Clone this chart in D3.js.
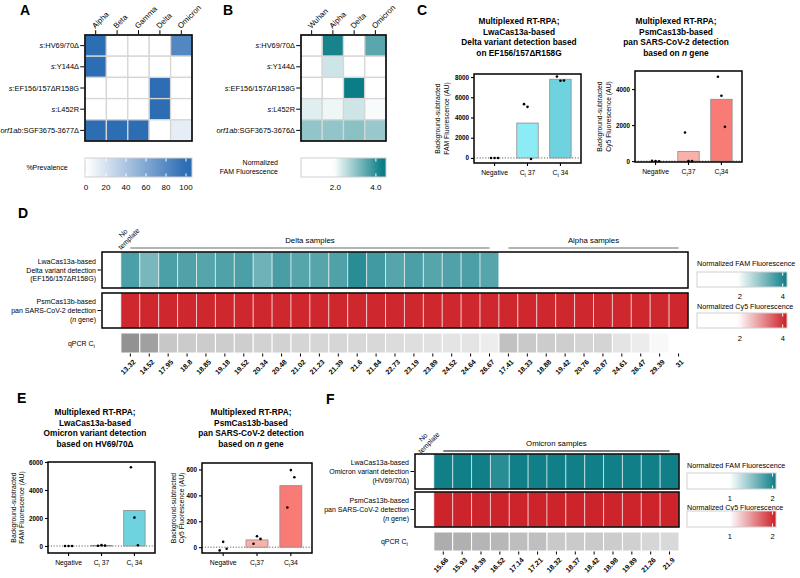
<!DOCTYPE html>
<html><head><meta charset="utf-8">
<script src="https://cdnjs.cloudflare.com/ajax/libs/d3/7.8.5/d3.min.js"></script>
<style>body{margin:0;background:#fff}svg{display:block}</style>
</head><body>
<svg id="c" width="800" height="578"></svg>
<script>
// ===================== DATA =====================
// Panel A
const variantsA = ["Alpha","Beta","Gamma","Delta","Omicron"];
const mutationsA = ["*s*:HV69/70Δ","*s*:Y144Δ","*s*:EF156/157ΔR158G","*s*:L452R","*orf1ab*:SGF3675-3677Δ"];
const prevalenceA = [
  [100,0,0,0,82],
  [100,0,0,0,0],
  [0,0,0,100,0],
  [0,0,0,100,0],
  [100,100,100,0,12]];
const prevalenceTicks = [0,20,40,60,80,100];
// Panel B
const variantsB = ["Wuhan","Alpha","Delta","Omicron"];
const mutationsB = ["*s*:HV69/70Δ","*s*:Y144Δ","*s*:EF156/157ΔR158G","*s*:L452R","*orf1ab*:SGF3675-3676Δ"];
const famB = [
  [1.0,4.18,1.0,3.53],
  [1.0,2.38,1.0,1.0],
  [1.0,1.0,4.3,1.0],
  [2.21,2.07,2.38,1.97],
  [2.98,2.98,3.05,2.91]];
const famBTicks = [2.0,4.0];
// Panel C
const cGroups = ["Negative","Ct 37","Ct 34"];
const cFamLabels = ["Negative","C_t_ 37","C_t_ 34"];
const cFamBars = [0,3450,7780];
const cFamPoints = [[0,0,0],[5320,5050,-100],[8050,7630,7660]];
const cFamTicks = [0,2000,4000,6000,8000];
const cCy5Labels = ["Negative","C_t_37","C_t_34"];
const cCy5Bars = [0,530,3430];
const cCy5Points = [[10,0,-10],[1590,0,0],[4680,3630,1900]];
const cCy5Ticks = [0,2000,4000];
const cFamTitle = ["Multiplexed RT-RPA;","LwaCas13a-based","Delta variant detection based","on EF156/157ΔR158G"];
const cCy5Title = ["Multiplexed RT-RPA;","PsmCas13b-based","pan SARS-CoV-2 detection","based on *n* gene"];
// Panel D
const deltaCt = [13.32,14.52,17.95,18.8,18.85,19.18,19.52,20.34,20.48,21.02,21.23,21.39,21.6,21.84,22.73,23.19,23.89,24.52,24.64,26.67];
const alphaCt = [17.41,18.33,18.88,19.42,20.76,20.87,24.61,26.47,29.39,31];
const famDelta = [3.6,3.17,3.6,3.55,3.5,3.55,3.6,3.26,3.62,3.5,3.5,3.55,3.92,3.69,3.5,3.59,3.5,3.55,3.59,3.5];
const famAlpha = [1.2,1.1,1.2,1.1,1.2,1.1,1.2,1.1,1.2,1.1];
const cy5Delta = [4.1,4.1,4.1,4.1,4.1,4.1,4.1,4.1,4.1,4.1,4.1,4.1,4.1,4.1,4.1,4.1,4.1,4.1,4.1,4.1];
const cy5Alpha = [4.1,4.1,4.1,4.1,4.1,4.1,4.1,4.1,4.1,4.1];
const noTemplateD = {fam:0, cy5:0};
const dTicks = [2,4];
// Panel E
const eFamLabels = ["Negative","C_t_ 37","C_t_ 34"];
const eFamBars = [0,35,2540];
const eFamPoints = [[0,0,0],[20,60,30],[5620,2030,50]];
const eFamTicks = [0,2000,4000,6000];
const eCy5Labels = ["Negative","C_t_37","C_t_34"];
const eCy5Bars = [0,56,475];
const eCy5Points = [[-25,41,-12],[26,84,64],[306,595,540]];
const eCy5Ticks = [0,200,400,600];
const eFamTitle = ["Multiplexed RT-RPA;","LwaCas13a-based","Omicron variant detection","based on HV69/70Δ"];
// Panel F
const omicronCt = [15.66,15.93,16.39,16.52,17.14,17.21,18.32,18.37,18.42,18.98,19.89,21.26,21.9];
const famOmicron = [2.06,2.06,2.06,1.95,2.06,2.06,2.06,2.06,2.06,2.06,2.06,2.06,2.06];
const cy5Omicron = [2.05,2.05,2.05,2.05,2.05,2.05,2.05,2.05,2.05,2.05,2.05,2.05,2.05];
const noTemplateF = {fam:0, cy5:0};
const fTicks = [1,2];

// ===================== SETUP =====================
const FONT = "'Liberation Sans', Arial, Helvetica, sans-serif";
const svg = d3.select("#c").attr("font-family", FONT);
const defs = svg.append("defs");
const TEAL = "#0b7d86", RED = "#cc1d25", BLUE = "#2d6db4";

function styled(t, str, fs) {
  str = String(str);
  const parts = str.split(/(\*[^*]+\*|_[^_]+_)/).filter(s => s.length);
  let shift = 0;
  parts.forEach(p => {
    const ts = t.append("tspan");
    if (p[0] === "_") { ts.attr("font-size", fs*0.72).attr("dy", fs*0.3).text(p.slice(1,-1)); shift = fs*0.3; return; }
    if (p[0] === "*") ts.attr("font-style","italic").text(p.slice(1,-1)); else ts.text(p);
    if (shift) { ts.attr("dy", -shift); shift = 0; }
  });
  return t;
}
function txt(x, y, str, fs, opts={}) {
  const t = svg.append("text").attr("x",x).attr("y",y).attr("font-size",fs)
    .attr("text-anchor", opts.anchor || "start").attr("fill", opts.fill || "#000");
  if (opts.bold) t.attr("font-weight","bold");
  styled(t, str, fs);
  return t;
}
function letter(x,y,s){ txt(x,y,s,14,{bold:true}); }

let gid = 0;
function colorLegend(o) {
  const s = d3.scaleLinear().domain(o.domain).range([o.x0,o.x1]);
  const id = "g"+(gid++);
  const lg = defs.append("linearGradient").attr("id",id).attr("x1","0%").attr("x2","100%").attr("y1","0%").attr("y2","0%");
  d3.range(0,1.0001,0.04).forEach(t => lg.append("stop").attr("offset",(t*100)+"%")
    .attr("stop-color", o.color(o.domain[0] + t*(o.domain[1]-o.domain[0]))));
  svg.append("rect").attr("x",o.x0).attr("y",o.y0).attr("width",o.x1-o.x0).attr("height",o.y1-o.y0)
    .attr("fill",`url(#${id})`).attr("stroke","#cfcfcf").attr("stroke-width",1);
  o.ticks.forEach(v => {
    const x = s(v);
    svg.append("line").attr("x1",x).attr("x2",x).attr("y1",o.y0+0.5).attr("y2",o.y0+3.5).attr("stroke","#fff").attr("stroke-width",1);
    svg.append("line").attr("x1",x).attr("x2",x).attr("y1",o.y1-3.5).attr("y2",o.y1-0.5).attr("stroke","#fff").attr("stroke-width",1);
    txt(x, o.labelY, o.fmt(v), o.fs || 7.5, {anchor:"middle"});
  });
}

function gridHeatmap(o) {
  const xs = d3.scaleBand().domain(o.cols).range([o.x0,o.x0+o.w]);
  const ys = d3.scaleBand().domain(o.rows).range([o.y0,o.y0+o.h]);
  const g = svg.append("g");
  o.rows.forEach((r,i) => o.cols.forEach((c,j) => {
    g.append("rect").attr("x",xs(c)).attr("y",ys(r)).attr("width",xs.bandwidth()).attr("height",ys.bandwidth())
      .attr("fill", o.color(o.vals[i][j])).attr("stroke","#d6d6d6").attr("stroke-width",1.3);
  }));
  g.append("rect").attr("x",o.x0).attr("y",o.y0).attr("width",o.w).attr("height",o.h)
    .attr("fill","none").attr("stroke","#000").attr("stroke-width",1.6);
  const ax = g.append("g").attr("transform",`translate(0,${o.y0-0.8})`).call(d3.axisTop(xs).tickSize(4).tickFormat(""));
  ax.select(".domain").remove();
  const ay = g.append("g").attr("transform",`translate(${o.x0-0.8},0)`).call(d3.axisLeft(ys).tickSize(4).tickFormat(""));
  ay.select(".domain").remove();
  o.cols.forEach(c => {
    const cx = xs(c) + xs.bandwidth()/2;
    g.append("text").attr("transform",`translate(${cx-0.5},${o.y0-6}) rotate(-45)`)
      .attr("font-size",7.8).text(c);
  });
  o.rows.forEach(r => {
    const cy = ys(r) + ys.bandwidth()/2;
    txt(o.x0-6, cy+2.5, r, 7.4, {anchor:"end"});
  });
}

function barChart(o) {
  const x = d3.scaleBand().domain(cGroups).range([o.x0,o.x1]).paddingInner(0.35).paddingOuter(0.3);
  const y = d3.scaleLinear().domain(o.domain).range([o.y1,o.y0]);
  const g = svg.append("g");
  g.append("line").attr("x1",o.x0).attr("x2",o.x1).attr("y1",y(0)).attr("y2",y(0))
    .attr("stroke","#555").attr("stroke-width",0.9).attr("stroke-dasharray","1.2,1.6");
  cGroups.forEach((k,i) => {
    if (o.bars[i] > 0) g.append("rect").attr("x",x(k)).attr("width",x.bandwidth())
      .attr("y",y(o.bars[i])).attr("height",y(0)-y(o.bars[i]))
      .attr("fill",o.colors[i]).attr("stroke","#8c8c8c").attr("stroke-width",0.8);
    o.points[i].forEach((v,j) => g.append("circle").attr("cx",x(k)+x.bandwidth()/2+(j-1)*3.5).attr("cy",y(v))
      .attr("r",1.3).attr("fill","#000"));
  });
  g.append("rect").attr("x",o.x0).attr("y",o.y0).attr("width",o.x1-o.x0).attr("height",o.y1-o.y0)
    .attr("fill","none").attr("stroke","#000").attr("stroke-width",1.5);
  const ya = g.append("g").attr("transform",`translate(${o.x0},0)`)
    .call(d3.axisLeft(y).tickValues(o.ticks).tickSize(3).tickPadding(2).tickFormat(d3.format("d")));
  ya.select(".domain").remove();
  ya.selectAll("line").attr("stroke","#000").attr("stroke-width",1.1);
  ya.selectAll("text").attr("font-size",6.3).attr("font-weight","bold").attr("font-family",FONT).attr("fill","#000");
  const xa = g.append("g").attr("transform",`translate(0,${o.y1})`)
    .call(d3.axisBottom(x).tickSize(3).tickFormat(""));
  xa.select(".domain").remove();
  xa.selectAll("line").attr("stroke","#000").attr("stroke-width",1.1);
  cGroups.forEach((k,i) => txt(x(k)+x.bandwidth()/2, o.y1+12, o.labels[i], 6.8, {anchor:"middle"}));
  o.title.forEach((l,i) => txt(o.titleX, o.titleY + i*10.5, l, 8.3, {anchor:"middle", bold:true}));
  const cy = (o.y0+o.y1)/2;
  o.ylab.forEach((l,i) => {
    svg.append("text").attr("transform",`translate(${o.ylabX + i*8.5},${cy}) rotate(-90)`)
      .attr("text-anchor","middle").attr("font-size",6.8).text(l);
  });
}

function stripPanel(o) {
  const n = o.fam.length;
  const xs = d3.scaleBand().domain(d3.range(n)).range([o.x0,o.x1]);
  const bw = xs.bandwidth();
  [[o.fam,o.famColor,o.r1,o.lab1],[o.cy5,o.cy5Color,o.r2,o.lab2]].forEach(([vals,col,r,lab]) => {
    vals.forEach((v,i) => svg.append("rect").attr("x",xs(i)).attr("y",r[0]).attr("width",bw).attr("height",r[1]-r[0])
      .attr("fill",col(v)).attr("stroke","rgba(255,255,255,0.55)").attr("stroke-width",1));
    svg.append("rect").attr("x",o.x0).attr("y",r[0]).attr("width",o.x1-o.x0).attr("height",r[1]-r[0])
      .attr("fill","none").attr("stroke","#000").attr("stroke-width",1.5);
    const cy = (r[0]+r[1])/2;
    svg.append("line").attr("x1",o.x0-4.5).attr("x2",o.x0-1).attr("y1",cy).attr("y2",cy).attr("stroke","#000").attr("stroke-width",1);
    lab.forEach((l,i) => txt(o.x0-6, cy + (i-1)*8.7 + 2.5, l, 7, {anchor:"end"}));
  });
  // qPCR row
  o.ct.forEach((c,i) => svg.append("rect").attr("x",xs(i+1)).attr("y",o.r3[0]).attr("width",bw).attr("height",o.r3[1]-o.r3[0])
    .attr("fill",o.ctColor(c)).attr("stroke","#fff").attr("stroke-width",1));
  txt(o.x0-7, (o.r3[0]+o.r3[1])/2+2.5, "qPCR C_t_", 7, {anchor:"end"});
  const ax = svg.append("g").attr("transform",`translate(0,${o.r3[1]+0.5})`)
    .call(d3.axisBottom(xs).tickValues(d3.range(1,n)).tickSize(3).tickFormat(""));
  ax.select(".domain").remove();
  ax.selectAll("line").attr("stroke","#000");
  o.ct.forEach((c,i) => {
    const cx = xs(i+1)+bw/2;
    svg.append("text").attr("transform",`translate(${cx+2},${o.r3[1]+6}) rotate(-45)`)
      .attr("text-anchor","end").attr("dy","0.72em").attr("font-size",7).attr("font-weight","bold").text(c);
  });
  // sample brackets
  o.groups.forEach(gr => {
    const xa = xs(gr.from)+bw/2, xb = xs(gr.to)+bw/2;
    svg.append("line").attr("x1",xa).attr("x2",xb).attr("y1",o.bracketY).attr("y2",o.bracketY)
      .attr("stroke",o.bracketColor).attr("stroke-width",1.5);
    txt((xa+xb)/2, o.bracketY-5, gr.name, 7.8, {anchor:"middle"});
  });
  // No template
  const nt = svg.append("g").attr("transform",`translate(${o.nt[0]},${o.nt[1]}) rotate(-45)`);
  nt.append("text").attr("y",-1.5).attr("text-anchor","middle").attr("font-size",7).text("No");
  nt.append("text").attr("y",6.5).attr("text-anchor","middle").attr("font-size",7).text("template");
}

// ===================== PANEL A =====================
letter(20,15,"A");
const colA = d3.scaleLinear().domain([0,100]).range(["#ffffff",BLUE]).clamp(true);
gridHeatmap({x0:85,y0:35,w:107,h:106,cols:variantsA,rows:mutationsA,vals:prevalenceA,color:colA});
txt(47,169.5,"%Prevalence",7,{anchor:"middle"});
colorLegend({x0:85,x1:192,y0:158,y1:177,domain:[-1,106],color:colA,ticks:prevalenceTicks,fmt:d=>d,labelY:190,fs:8});

// ===================== PANEL B =====================
letter(223,15,"B");
const colB = d3.scaleLinear().domain([1.9,4.3]).range(["#ffffff",TEAL]).clamp(true);
gridHeatmap({x0:301,y0:35,w:85,h:106,cols:variantsB,rows:mutationsB,vals:famB,color:colB});
txt(278,164.5,"Normalized",7,{anchor:"end"});
txt(278,173.5,"FAM Fluorescence",7,{anchor:"end"});
colorLegend({x0:301,x1:386,y0:158,y1:177,domain:[0.3,4.5],color:colB,ticks:famBTicks,fmt:d3.format(".1f"),labelY:190,fs:8});

// ===================== PANEL C =====================
letter(417,15,"C");
barChart({x0:474,x1:581,y0:74,y1:163,domain:[-500,8300],ticks:cFamTicks,bars:cFamBars,points:cFamPoints,
  colors:["#8cebf5","#8cebf5","#6fd3df"],labels:cFamLabels,title:cFamTitle,titleX:519,titleY:24,
  ylab:["Background-subtracted","FAM Fluorescence (AU)"],ylabX:440});
barChart({x0:635,x1:742,y0:71,y1:162,domain:[-50,5000],ticks:cCy5Ticks,bars:cCy5Bars,points:cCy5Points,
  colors:["#f9b1a9","#f9b1a9","#f87b75"],labels:cCy5Labels,title:cCy5Title,titleX:676,titleY:24,
  ylab:["Background-subtracted","Cy5 Fluorescence (AU)"],ylabX:602});

// ===================== PANEL D =====================
letter(18,218,"D");
const famColD = d3.scaleLinear().domain([1.9,4.2]).range(["#ffffff",TEAL]).clamp(true);
const cy5ColD = d3.scaleLinear().domain([1.9,4.2]).range(["#ffffff",RED]).clamp(true);
const ctCol = d3.scaleLinear().domain([13,18,31]).range(["#8e8e8e","#c8c8c8","#ffffff"]).clamp(true);
stripPanel({
  x0:102,x1:688,
  fam:[noTemplateD.fam].concat(famDelta,famAlpha),
  cy5:[noTemplateD.cy5].concat(cy5Delta,cy5Alpha),
  ct:deltaCt.concat(alphaCt),
  famColor:famColD,cy5Color:cy5ColD,ctColor:ctCol,
  r1:[252,288],r2:[293,328],r3:[333,353],
  lab1:["LwaCas13a-based","Delta variant detection","(EF156/157ΔR158G)"],
  lab2:["PsmCas13b-based","pan SARS-CoV-2 detection","(*n* gene)"],
  groups:[{name:"Delta samples",from:1,to:20},{name:"Alpha samples",from:21,to:30}],
  bracketY:248,bracketColor:"#9a9a9a",nt:[126,236]
});
txt(697,265.5,"Normalized FAM Fluorescence",7.2);
colorLegend({x0:697,x1:787,y0:272,y1:287,domain:[0,4.2],color:famColD,ticks:dTicks,fmt:d=>d,labelY:299,fs:7.5});
txt(697,308.5,"Normalized Cy5 Fluorescence",7.2);
colorLegend({x0:697,x1:787,y0:313,y1:328,domain:[0,4.2],color:cy5ColD,ticks:dTicks,fmt:d=>d,labelY:341,fs:7.5});

// ===================== PANEL E =====================
letter(17,403,"E");
barChart({x0:48,x1:155,y0:462,y1:553,domain:[-500,6000],ticks:eFamTicks,bars:eFamBars,points:eFamPoints,
  colors:["#8cebf5","#8cebf5","#6fd3df"],labels:eFamLabels,title:eFamTitle,titleX:95,titleY:415,
  ylab:["Background-subtracted","FAM Fluorescence (AU)"],ylabX:15.5});
barChart({x0:202,x1:312,y0:463,y1:553,domain:[-45,650],ticks:eCy5Ticks,bars:eCy5Bars,points:eCy5Points,
  colors:["#f9b1a9","#f9b1a9","#f87b75"],labels:eCy5Labels,title:cCy5Title,titleX:251,titleY:415,
  ylab:["Background-subtracted","Cy5 Fluorescence (AU)"],ylabX:175.5});

// ===================== PANEL F =====================
letter(326,404,"F");
const famColF = d3.scaleLinear().domain([1.0,2.08]).range(["#ffffff",TEAL]).clamp(true);
const cy5ColF = d3.scaleLinear().domain([1.0,2.08]).range(["#ffffff",RED]).clamp(true);
stripPanel({
  x0:415,x1:679,
  fam:[noTemplateF.fam].concat(famOmicron),
  cy5:[noTemplateF.cy5].concat(cy5Omicron),
  ct:omicronCt,
  famColor:famColF,cy5Color:cy5ColF,ctColor:ctCol,
  r1:[454,489],r2:[492,527],r3:[532,551],
  lab1:["LwaCas13a-based","Omicron variant detection","(HV69/70Δ)"],
  lab2:["PsmCas13b-based","pan SARS-CoV-2 detection","(*n* gene)"],
  groups:[{name:"Omicron samples",from:1,to:13}],
  bracketY:451,bracketColor:"#555",nt:[426,440]
});
txt(687,467.5,"Normalized FAM Fluorescence",7.2);
colorLegend({x0:687,x1:776,y0:473,y1:489,domain:[0,2.08],color:famColF,ticks:fTicks,fmt:d=>d,labelY:501,fs:7.5});
txt(687,509.5,"Normalized Cy5 Fluorescence",7.2);
colorLegend({x0:687,x1:776,y0:511,y1:527,domain:[0,2.08],color:cy5ColF,ticks:fTicks,fmt:d=>d,labelY:539,fs:7.5});
</script>
</body></html>
